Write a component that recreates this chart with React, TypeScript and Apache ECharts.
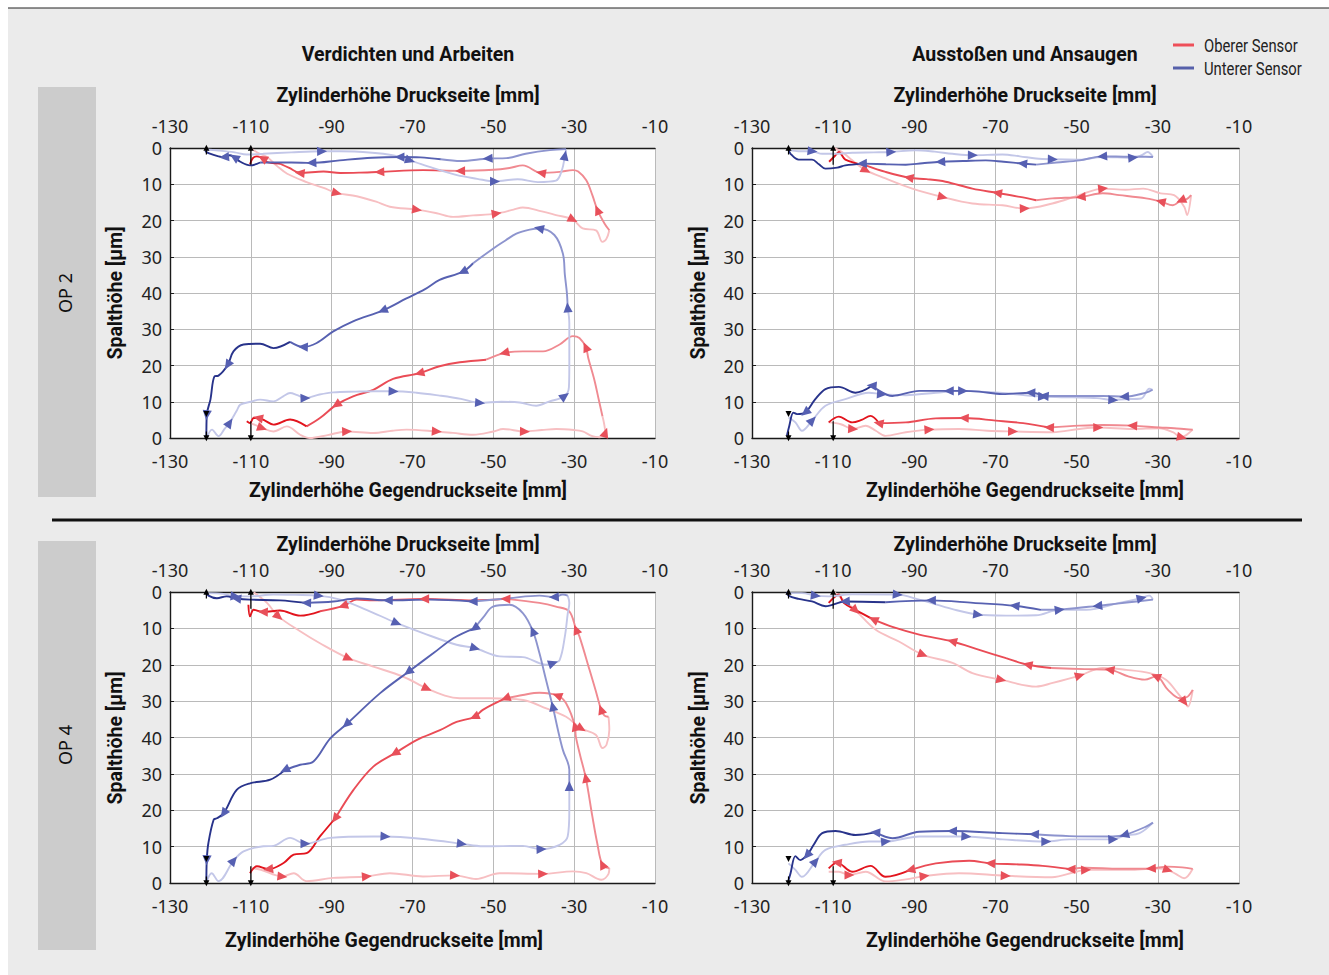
import React, { useEffect, useRef } from 'react';
import * as echarts from 'echarts';

// ---------- axis definitions ----------
const X_MIN = -130;
const X_MAX = -10;
const X_STEP = 20;
const Y_LABELS = ['0', '10', '20', '30', '40', '30', '20', '10', '0'];
const COLUMN_TITLES = ['Verdichten und Arbeiten', 'Ausstoßen und Ansaugen'];
const ROW_LABELS = ['OP 2', 'OP 4'];
const LEGEND_LABELS = ['Oberer Sensor', 'Unterer Sensor'];
const X_NAME_TOP = 'Zylinderhöhe Druckseite [mm]';
const X_NAME_BOTTOM = 'Zylinderhöhe Gegendruckseite [mm]';
const Y_NAME = 'Spalthöhe [µm]';

// ---------- data: [x mm, gap µm, arrowFlag] ; each curve = 4 segments (light -> dark) ----------
// Panel 1: OP 2, Verdichten und Arbeiten
const p1TopBlue = [
  [[-121.3, 0.4], [-118, 0.7], [-114, 1.2], [-111, 1.8], [-107, 1.6], [-100, 1.2], [-92.5, 0.9, 1], [-88, 0.9], [-80, 1.3], [-75, 2], [-70.7, 3.4, 1], [-65, 5.5], [-59, 7.5], [-54, 8.5], [-49.7, 9.2, 1], [-44, 8.6], [-39, 9.4], [-34.5, 9], [-33, 6], [-32.3, 2.2, 1], [-32, 0.3]],
  [[-32, 0.3], [-36, 0.6], [-42, 1.6], [-46.8, 2.8], [-51.3, 2.9, 1], [-58, 3.6], [-63, 3.1]],
  [[-63, 3.1], [-68, 2.6], [-73.1, 2.5, 1], [-80, 2.7], [-88, 3.4], [-94.9, 4.1, 1], [-100, 4], [-107.7, 4]],
  [[-107.7, 4], [-110.2, 4.8], [-112.6, 3.8], [-114, 2.6, 1], [-115.2, 2], [-116.5, 2.5, 1], [-118, 2.3], [-120.3, 1.5], [-121.3, 0.8]],
];
const p1TopRed = [
  [[-110, 0], [-108.5, 1.2], [-106, 2.5], [-103.5, 5], [-101, 7.1], [-96.2, 9.4], [-92, 11], [-88.8, 12.4, 1], [-83.8, 13.3], [-79, 14.8], [-75.6, 16.2], [-69, 17, 1], [-64, 18], [-60, 19], [-55, 18.6], [-49.3, 18.1, 1], [-45, 17], [-42.7, 16.4], [-38, 17.5], [-34.5, 18.5], [-30.4, 19.7, 1], [-27.9, 22.2], [-24.6, 22.7], [-23, 25.9], [-22, 25], [-21.3, 22.7]],
  [[-21.3, 22.7], [-22.5, 20.8], [-24.2, 17.2, 1], [-25.5, 13], [-27, 8.9], [-29, 6.5], [-30.3, 6.1], [-33.6, 6.6], [-38.1, 6.9, 1], [-42.7, 4.8], [-46, 5.5], [-50, 6], [-58.1, 6.3, 1], [-63, 6.2]],
  [[-63, 6.2], [-67.4, 6.1], [-78.1, 6.6, 1], [-83, 6.8], [-87.9, 6.9], [-92, 6.5], [-97.8, 6.9, 1], [-100.5, 5.5], [-102.8, 4.3]],
  [[-102.8, 4.3], [-106, 3.9], [-107, 2.9, 1], [-108.5, 2.3], [-109.5, 2.8], [-110.2, 4.5]],
];
const p1BotBlue = [
  [[-120.9, 0], [-119.6, 2.3], [-118, 0.5], [-116.5, 2.5], [-115.3, 4.1, 1], [-113.5, 7.5], [-112.6, 9.2], [-110, 10], [-107.7, 10.6], [-104.4, 10.1], [-102, 11.5], [-100.3, 12.4], [-98.5, 11.8], [-96.6, 11, 1], [-93, 12], [-89.6, 12.6], [-84, 12.8], [-79.7, 12.9], [-74.8, 12.9, 1], [-69, 12.5], [-63.3, 11.7], [-58, 10.8], [-53.4, 9.7, 1], [-48, 10], [-43.5, 9.8], [-39.4, 8.9], [-36.1, 10.1], [-32.4, 11.5, 1], [-31.3, 14], [-31.2, 20], [-31.2, 31.7], [-31.6, 35.9, 1]],
  [[-31.6, 35.9], [-31.8, 40], [-32.3, 45], [-32.8, 50.9], [-34.9, 56], [-38.6, 57.8, 1], [-41, 57.5], [-44.3, 56.4], [-47, 54.5], [-50, 52.3], [-55, 48.2]],
  [[-55, 48.2], [-57.5, 45.9, 1], [-63.3, 43.6], [-67, 41], [-71.5, 38.5], [-77.3, 35.2, 1], [-84.7, 32.2], [-89.6, 29.4], [-93.7, 26.2], [-97, 25.1, 1], [-100.3, 26.5]],
  [[-100.3, 26.5], [-104.4, 24.8], [-107.7, 26], [-111.8, 25.8], [-114.3, 23.9], [-115.7, 20.2, 1], [-118, 17.2], [-119, 17], [-120, 10.6], [-120.9, 6.4, 1], [-121, 0.5]],
];
const p1BotRed = [
  [[-110.2, 4.1], [-108.5, 3.4], [-107.3, 2.8, 1], [-104.4, 1.8], [-101.1, 3.2], [-97.8, 0.9], [-95.4, 0], [-91, 0.8], [-86.3, 1.8, 1], [-79.7, 1.4], [-75, 2], [-71.5, 2.3], [-64.1, 1.8, 1], [-60, 1.4], [-55, 0.9], [-50, 1.8], [-47.6, 2.5], [-42.3, 1.8, 1], [-38, 2.2], [-34.4, 2.5], [-30, 2.2], [-27.9, 1.8], [-25.5, 0.5], [-23.8, 0.2], [-22.3, 1.4, 1], [-22.6, 4], [-23, 6]],
  [[-23, 6], [-24, 11], [-25, 16], [-26.5, 22], [-27.1, 25, 1], [-28.7, 27.6], [-30.3, 28.1], [-33.6, 25.8], [-37.7, 23.9], [-42.7, 23.9], [-47.2, 23.5, 1], [-51.8, 21.6]],
  [[-51.8, 21.6], [-58.3, 20.9], [-63.3, 19.8], [-68.2, 17.9, 1], [-74.8, 16.3], [-79.7, 13.3], [-84.7, 11.5], [-88.8, 9.2, 1], [-92.9, 5.5], [-96.2, 3.2]],
  [[-96.2, 3.2], [-100.3, 5.1], [-104.4, 3.7], [-106.5, 4.8], [-108.1, 5.5, 1], [-109.3, 5.5], [-110.2, 4.1], [-111, 4.6]],
];

// Panel 2: OP 2, Ausstoßen und Ansaugen
const p2TopBlue = [
  [[-120.9, 0.6], [-118.5, 0.9], [-115.2, 0.9, 1], [-112.7, 1.6], [-109.8, 1.6], [-105.3, 1.3], [-100, 1.2], [-95.8, 1.1, 1], [-89.7, 0.6], [-85, 1], [-80.6, 1.6], [-75.7, 2, 1], [-68.3, 1.8], [-64, 2.3], [-60, 2.9], [-56, 3.1, 1], [-49.3, 3.2], [-43.6, 2.5], [-40, 2.6], [-36.2, 2.7, 1], [-34, 2], [-32.5, 1.1], [-31.2, 2.5]],
  [[-31.2, 2.5], [-33, 2.4], [-37, 2.4], [-43.6, 2.3, 1], [-49.3, 3.4], [-55, 4], [-60, 4.6]],
  [[-60, 4.6], [-63.3, 4.3, 1], [-68, 3.8], [-72.4, 3.4], [-78, 3.6], [-83.5, 3.8, 1], [-88, 4.2], [-92.1, 4.6], [-97, 4.5], [-102.8, 4.3, 1]],
  [[-102.8, 4.3], [-107, 4.8], [-109, 5.4], [-111.9, 5.7], [-113.5, 4.5], [-115.2, 3.2], [-118.5, 3.2], [-120.5, 1.6], [-121.1, 0.2]],
];
const p2TopRed = [
  [[-109.8, 0], [-108.6, 0.6], [-107, 1.8], [-105.3, 3.4], [-102, 6.1, 1], [-97.1, 8.4], [-90.5, 11.2], [-83.1, 13.5, 1], [-75.7, 15.3], [-68.3, 15.8], [-62.9, 16.7, 1], [-56, 15.3], [-49.3, 13], [-43.6, 11.2, 1], [-38, 11.5], [-33.6, 11.2], [-29.3, 12.5], [-26, 13], [-23.5, 16.2], [-22.8, 18.5], [-21.8, 13]],
  [[-21.8, 13], [-23, 14.2], [-24.2, 14.4, 1], [-26.3, 15.8], [-29.2, 14.8, 1], [-32.9, 13.9], [-39.5, 13], [-43.6, 12.5], [-48.9, 13.5, 1], [-56, 13.9], [-60, 14.4]],
  [[-60, 14.4], [-64, 13.5], [-69.5, 12.4, 1], [-75.7, 11.2], [-82.3, 9.3], [-87, 8.6], [-91.3, 8.2, 1], [-97.1, 6.6], [-102, 4.8]],
  [[-102, 4.8], [-107, 3.2], [-108.6, 1.1], [-109.6, 2.2], [-111, 3.8]],
];
const p2BotBlue = [
  [[-121, 5.7], [-119.3, 4.3], [-117.7, 2], [-115.2, 4.8, 1], [-111.9, 8.9], [-107, 10.7], [-101.2, 12.5], [-98.1, 12.1, 1], [-92.1, 11.8], [-84.7, 12.5], [-78.1, 13, 1], [-68.3, 12.4], [-58.4, 11.4, 1], [-51.1, 11.2], [-45, 11], [-41.1, 10.5, 1], [-38.2, 10.7], [-34.1, 10.9], [-32.1, 13.6], [-31.3, 13.3]],
  [[-31.3, 13.3], [-32.9, 12.5], [-38.2, 11.4, 1], [-43.6, 11.6], [-51.8, 11.6], [-58, 11.6, 1]],
  [[-58, 11.6], [-61.3, 12.5, 1], [-68.3, 12.1], [-74, 12.8], [-78.1, 13], [-81.4, 13, 1], [-88.8, 13], [-95.4, 11.6], [-100.4, 14.4, 1]],
  [[-100.4, 14.4], [-104.5, 12.5], [-108.6, 14.1], [-111.9, 13.5], [-114.4, 10.7], [-116.8, 7.1, 1], [-118.9, 6.6], [-119.8, 7], [-120.8, 3.4], [-121.4, 0.6]],
];
const p2BotRed = [
  [[-111.1, 4.3], [-108.1, 3.8], [-105.2, 2.5, 1], [-102, 3.4], [-99.5, 2], [-97.1, 0.6], [-92.1, 1.6], [-86.4, 2.3, 1], [-79, 2.5], [-72, 2], [-65.8, 1.8, 1], [-55.9, 1.6], [-49.3, 2.5], [-44.8, 2.9, 1], [-36.2, 2.5], [-29.6, 2.7], [-26.3, 1.6], [-24.2, 0.2, 1], [-23, 0.8], [-21.4, 2.3]],
  [[-21.4, 2.3], [-23, 2.4], [-26, 2.7], [-29.6, 2.9], [-36.2, 3.4, 1], [-43.6, 3.6], [-49.3, 3.4], [-56.7, 2.9, 1]],
  [[-56.7, 2.9], [-63.2, 4.1], [-69.9, 4.8], [-77.7, 5.5, 1], [-84.7, 5.4], [-92.1, 4.3], [-98.7, 4.1, 1]],
  [[-98.7, 4.1], [-100.8, 6.1], [-103, 5], [-105.3, 4.3], [-108.6, 5.9], [-111.1, 4.3]],
];

// Panel 3: OP 4, Verdichten und Arbeiten
const p3TopBlue = [
  [[-120.9, 0.3], [-116.7, 0.5], [-113.9, 1.2, 1], [-110.2, 1.2], [-104.4, 0.7], [-99, 0.8], [-93.3, 1, 1], [-87.9, 2.1], [-81.4, 4.9], [-74, 8.5, 1], [-67.4, 11.3], [-59.1, 14.5], [-54.6, 15.4, 1], [-48.4, 17.7], [-42.7, 17.9], [-38.5, 19.6], [-36.9, 20], [-35.3, 19.6, 1], [-33.6, 18.7], [-32.3, 12.2], [-31.6, 6], [-31.2, 3], [-31.6, 1]],
  [[-31.6, 1], [-32.8, 0.7], [-34.9, 1.4, 1], [-38.6, 1], [-46.1, 1.7], [-55, 2.6, 1]],
  [[-55, 2.6], [-65.7, 2.1], [-76, 2.3, 1], [-83.8, 1.8], [-89.6, 2.6], [-96.2, 3, 1]],
  [[-96.2, 3], [-102.8, 2.3], [-110.2, 2.1], [-113.5, 1.8, 1], [-116, 1.2], [-118.4, 1.7], [-120.5, 1], [-121, 0]],
];
const p3TopRed = [
  [[-109.3, 0.1], [-106, 3], [-103.2, 6.7, 1], [-97.8, 10.8], [-92.9, 14.1], [-85.9, 18.2, 1], [-79.7, 20.5], [-72.3, 23.3], [-66.5, 26.5, 1], [-62, 28.5], [-58.3, 29.2], [-50.8, 29.2], [-42.6, 29.7], [-36.9, 32], [-32, 34.3], [-28.3, 37.5, 1], [-24.6, 39.3], [-23, 42.9], [-22, 42], [-21.3, 37.9], [-21.5, 34.3]],
  [[-21.5, 34.3], [-22.5, 34], [-23.3, 32.4, 1], [-24.7, 27], [-26.2, 21.4], [-28.7, 12.2], [-29.5, 10.4, 1], [-31.2, 5.3], [-34.5, 4], [-38.6, 3], [-46.9, 1.9, 1]],
  [[-46.9, 1.9], [-55, 2.3], [-67, 1.9, 1], [-79.7, 2.3], [-83.8, 2.1], [-87.1, 3.8, 1], [-92.9, 5.3]],
  [[-92.9, 5.3], [-97.8, 6.5], [-102.8, 5.1], [-106.9, 5.5, 1], [-109.3, 4.9], [-110.2, 6.7], [-110.6, 3.5]],
];
const p3BotBlue = [
  [[-120.9, 0.5], [-119.7, 2.7], [-118, 0.5], [-114.3, 6.1, 1], [-111.8, 8.7], [-106.9, 10.1], [-104.4, 10.2], [-100.3, 12.4], [-96.6, 10.8, 1], [-90.4, 12.4], [-79.7, 12.8], [-76.8, 12.8, 1], [-65.7, 11.9], [-57.9, 10.8, 1], [-52.5, 10.1], [-42.7, 10.2], [-38.2, 9.3, 1], [-33.6, 10.5], [-31.6, 12.8], [-31.2, 20], [-31.2, 26.5, 1]],
  [[-31.2, 26.5], [-31.2, 31.1], [-32.8, 36.6], [-34, 42], [-35.3, 48.5, 1], [-37, 56], [-38.6, 63.2], [-40.2, 69.2, 1], [-42.7, 74.2], [-46, 76.5], [-50.1, 76], [-52.5, 73], [-54.6, 70.1, 1]],
  [[-54.6, 70.1], [-59.9, 67.3], [-64.8, 63.2], [-71, 58.1, 1], [-78, 52.2], [-86.3, 43.7, 1], [-90.4, 39.7], [-94.5, 33.4], [-97.8, 32.5], [-101.5, 31.1, 1]],
  [[-101.5, 31.1], [-105.2, 28.4], [-110.2, 27.4], [-113.5, 25.6], [-116.7, 19.2, 1], [-118.4, 17.8], [-119.2, 17.4], [-120.5, 11], [-120.9, 6.4, 1], [-121, 0.5]],
];
const p3BotRed = [
  [[-110.2, 4.1], [-107.7, 3.7], [-102.3, 1.8, 1], [-99.4, 2.7], [-96.2, 0.5], [-89.6, 1.4], [-81.4, 1.8, 1], [-75.6, 2.7], [-67.4, 1.8], [-59.6, 2.1, 1], [-54.3, 1.1], [-48.5, 2.7], [-37.8, 2.5, 1], [-30.3, 3.2], [-27, 2.7], [-23.3, 0.9], [-21.5, 2.5], [-21.3, 4.1]],
  [[-21.3, 4.1], [-23, 5, 1], [-24.3, 11], [-25.5, 18.3], [-27.1, 28.8, 1], [-28.5, 35], [-29.6, 40.3], [-29.8, 43, 1], [-32, 49.4], [-34.1, 51.5, 1], [-38.6, 52.3], [-42.7, 51.7], [-46.9, 50.8, 1]],
  [[-46.9, 50.8], [-52.6, 47.6], [-54.6, 45.7, 1], [-59.1, 44.3], [-63.2, 42], [-69, 39.3], [-74.3, 35.7, 1], [-79.7, 32], [-84.6, 25.6], [-89.1, 17.8, 1]],
  [[-89.1, 17.8], [-92.9, 12.8], [-96.2, 8.2], [-99.4, 7.8], [-101.9, 5.5], [-105.6, 3.8, 1], [-108.5, 4.6], [-110.2, 2.7]],
];

// Panel 4: OP 4, Ausstoßen und Ansaugen
const p4TopBlue = [
  [[-121, 0.3], [-117.7, 0.3], [-114.4, 1, 1], [-111.1, 1.2], [-105.3, 0.6], [-94.2, 0.7, 1], [-88.8, 2.1], [-80.6, 4.7], [-74.4, 6.2, 1], [-67.4, 6.5], [-60, 6.4], [-54.3, 4.9, 1], [-47.7, 4.9], [-39.5, 3], [-34.1, 1.7, 1], [-32.1, 1], [-31.2, 2.1]],
  [[-31.2, 2.1], [-35.3, 2.6], [-40, 3.2], [-44.8, 3.8, 1], [-53, 4.7], [-58.8, 4.9]],
  [[-58.8, 4.9], [-65.2, 3.8, 1], [-75.5, 3], [-85.8, 2.3, 1], [-97.1, 2.8]],
  [[-97.1, 2.8], [-107, 2.6, 1], [-111.9, 3.9], [-115.2, 2.6], [-118.5, 1.9], [-121, 1], [-121.4, 0]],
];
const p4TopRed = [
  [[-109.8, 0], [-107, 2.6], [-104.5, 5, 1], [-99.5, 10.4], [-93.8, 13.6], [-88, 17.2, 1], [-80.6, 19.5], [-75.7, 22.3], [-68.7, 24.1, 1], [-60, 26], [-55.9, 25], [-49.3, 23, 1], [-43.6, 20.9], [-37.8, 21.4], [-32, 22.3], [-28, 24.1], [-25.1, 27.8], [-23.5, 30.1, 1], [-22.6, 31.5], [-21.4, 26.9]],
  [[-21.4, 26.9], [-23, 29], [-24.6, 29.2], [-27.5, 26.9], [-30.4, 23.2, 1], [-33.2, 24.1], [-37.3, 23.2], [-41.8, 21.4, 1], [-48, 21.2], [-56.2, 20.9]],
  [[-56.2, 20.9], [-62, 20, 1], [-67.4, 18.2], [-74, 15.9], [-80.6, 13.6, 1], [-88.8, 11.7], [-95.4, 9.6], [-100, 7.6, 1]],
  [[-100, 7.6], [-104.5, 4.9], [-107.4, 3], [-108.6, 0.7], [-109.8, 1.5], [-111.1, 3]],
];
const p4BotBlue = [
  [[-121, 5.4], [-119.3, 3.6], [-117.7, 1.7], [-114.4, 5.9, 1], [-111.9, 9.1], [-107, 10.5], [-101.2, 11.4], [-97.1, 11.4, 1], [-88.8, 12.8], [-80.6, 12.8], [-77.3, 12.8, 1], [-68.3, 12], [-57.6, 11.4, 1], [-51.8, 12], [-41.1, 12, 1], [-38.2, 13], [-34.5, 13.7], [-31.2, 16.6]],
  [[-31.2, 16.6], [-32.9, 15.5], [-38.2, 13.2, 1], [-41.1, 12.8], [-51.8, 12.9], [-60.4, 13.4, 1]],
  [[-60.4, 13.4], [-68.3, 13.7], [-80.6, 14.3, 1], [-88.8, 14.1], [-95.4, 12.3], [-99.5, 13.9, 1]],
  [[-99.5, 13.9], [-104.5, 13.2], [-109.4, 14.3], [-112.7, 13.7], [-114.8, 10.5], [-116.4, 7.7, 1], [-118.1, 6.3], [-119.3, 7.4], [-120.5, 2.7], [-121.1, 0.4]],
];
const p4BotRed = [
  [[-111.1, 3.1], [-108.6, 3.1], [-106.1, 2.2, 1], [-102, 3.1], [-97.1, 0.4], [-92.1, 1], [-87.6, 1.9, 1], [-79, 2.7], [-67.6, 2, 1], [-56.1, 1.6], [-50.2, 3.1], [-47.8, 3.6, 1], [-36.3, 3.6], [-29.7, 4], [-27.6, 3.6, 1], [-25.6, 2.5], [-23.5, 1.3], [-21.4, 3.9]],
  [[-21.4, 3.9], [-24, 4.3], [-27.6, 4.5], [-31.6, 4, 1], [-39.5, 3.9], [-47.8, 4.2], [-51.4, 3.8, 1]],
  [[-51.4, 3.8], [-58.4, 4.7], [-64.2, 5.1], [-71.2, 5.4, 1], [-76.5, 6.1], [-84.7, 5.4], [-90.9, 3.6, 1]],
  [[-90.9, 3.6], [-97.1, 1.7], [-100.8, 4.7], [-105.3, 3.1], [-109, 5.6, 1], [-111.1, 4]],
];

// black position markers: [x, gapFrom, gapTo]
const MARKERS_TOP = [[-121, 1.8, -0.9], [-110, 4.6, -0.9]];
const MARKERS_BOTTOM = [[-121, 7.4, 5.8], [-121, 1.8, -0.9], [-110, 4.6, -0.9]];

const PANELS = [
  { topRed: p1TopRed, topBlue: p1TopBlue, botRed: p1BotRed, botBlue: p1BotBlue },
  { topRed: p2TopRed, topBlue: p2TopBlue, botRed: p2BotRed, botBlue: p2BotBlue },
  { topRed: p3TopRed, topBlue: p3TopBlue, botRed: p3BotRed, botBlue: p3BotBlue },
  { topRed: p4TopRed, topBlue: p4TopBlue, botRed: p4BotRed, botBlue: p4BotBlue },
];

// ---------- styling / layout ----------
const RED = ['#f7bfc2', '#f08a91', '#ea4c56', '#e2141d'];
const BLUE = ['#c3c7e8', '#8d94ce', '#5761b1', '#28338b'];
const RED_ARROW = '#e8505a';
const BLUE_ARROW = '#5660b2';
const GRIDS = [
  { left: 170, top: 148, width: 485, height: 290 },
  { left: 752, top: 148, width: 487, height: 290 },
  { left: 170, top: 592, width: 485, height: 291 },
  { left: 752, top: 592, width: 487, height: 291 },
];
const FONT_NUM = "'Noto Sans', 'DejaVu Sans', sans-serif";
const FONT_BOLD = "Roboto, 'Noto Sans', sans-serif";
const FONT_NARROW = "Roboto, 'Noto Sans', sans-serif";

function arrowRenderer(color: string) {
  return (params: any, api: any) => {
    const c = api.coord([api.value(0), api.value(1)]);
    const a = api.coord([api.value(2), api.value(3)]);
    const b = api.coord([api.value(4), api.value(5)]);
    let dx = b[0] - a[0];
    let dy = b[1] - a[1];
    const len = Math.hypot(dx, dy) || 1;
    dx /= len;
    dy /= len;
    const L = 10;
    const W = 4.6;
    const tip = [c[0] + dx * L * 0.55, c[1] + dy * L * 0.55];
    const bx = c[0] - dx * L * 0.45;
    const by = c[1] - dy * L * 0.45;
    return {
      type: 'polygon',
      shape: { points: [tip, [bx - dy * W, by + dx * W], [bx + dy * W, by - dx * W]] },
      style: { fill: color },
    };
  };
}

function markerRenderer(params: any, api: any) {
  const a = api.coord([api.value(0), api.value(1)]);
  const b = api.coord([api.value(0), api.value(2)]);
  const dir = b[1] > a[1] ? 1 : -1;
  const L = 6;
  const W = 3;
  return {
    type: 'group',
    children: [
      { type: 'line', shape: { x1: a[0], y1: a[1], x2: b[0], y2: b[1] - dir * L * 0.5 }, style: { stroke: '#000', lineWidth: 1.2 } },
      { type: 'polygon', shape: { points: [[b[0], b[1]], [b[0] - W, b[1] - dir * L], [b[0] + W, b[1] - dir * L]] }, style: { fill: '#000' } },
    ],
  };
}

function buildOption() {
  const series: any[] = [];
  const addCurve = (gi: number, segs: number[][][], pal: string[], arrowColor: string, bottom: boolean) => {
    const tr = (pt: number[]) => [pt[0], bottom ? 80 - pt[1] : pt[1]];
    segs.forEach((seg, k) => {
      series.push({
        type: 'line',
        xAxisIndex: gi * 2,
        yAxisIndex: gi,
        data: seg.map(tr),
        smooth: 0.35,
        symbol: 'none',
        showSymbol: false,
        silent: true,
        clip: false,
        lineStyle: { color: pal[k], width: 1.9 },
        z: 2,
      });
    });
    const flat: number[][] = [];
    segs.forEach((seg, k) => seg.forEach((pt, j) => { if (k > 0 && j === 0) return; flat.push(pt); }));
    const arrows: number[][] = [];
    flat.forEach((pt, i) => {
      if (pt[2]) {
        const a = flat[Math.max(0, i - 1)];
        const b = flat[Math.min(flat.length - 1, i + 1)];
        arrows.push([...tr(pt), ...tr(a), ...tr(b)]);
      }
    });
    series.push({
      type: 'custom',
      xAxisIndex: gi * 2,
      yAxisIndex: gi,
      data: arrows,
      encode: { x: 0, y: 1 },
      renderItem: arrowRenderer(arrowColor),
      silent: true,
      z: 6,
    });
  };

  PANELS.forEach((p, gi) => {
    addCurve(gi, p.topRed, RED, RED_ARROW, false);
    addCurve(gi, p.botRed, RED, RED_ARROW, true);
    addCurve(gi, p.topBlue, BLUE, BLUE_ARROW, false);
    addCurve(gi, p.botBlue, BLUE, BLUE_ARROW, true);
    const marks = [
      ...MARKERS_TOP.map((m) => [m[0], m[1], m[2]]),
      ...MARKERS_BOTTOM.map((m) => [m[0], 80 - m[1], 80 - m[2]]),
    ];
    series.push({
      type: 'custom',
      xAxisIndex: gi * 2,
      yAxisIndex: gi,
      data: marks,
      encode: { x: 0, y: 1 },
      renderItem: markerRenderer,
      silent: true,
      z: 8,
    });
  });

  const labelBase = { fontSize: 18, lineHeight: 18, color: '#222', fontFamily: FONT_NUM };
  const grid = GRIDS.map((g) => ({ ...g, show: true, backgroundColor: '#ffffff', borderWidth: 0 }));
  const xAxis: any[] = [];
  const yAxis: any[] = [];
  GRIDS.forEach((g, i) => {
    const base = {
      type: 'value',
      gridIndex: i,
      min: X_MIN,
      max: X_MAX,
      interval: X_STEP,
      axisLine: { show: true, onZero: false, lineStyle: { color: '#1a1a1a', width: 1.4 } },
      axisTick: { show: false },
    };
    xAxis.push({
      ...base,
      position: 'bottom',
      axisLabel: { ...labelBase, margin: 14 },
      splitLine: { show: true, lineStyle: { color: '#bababa', width: 1 } },
    });
    xAxis.push({
      ...base,
      position: 'top',
      axisLabel: { ...labelBase, margin: 13 },
      splitLine: { show: false },
    });
    yAxis.push({
      type: 'value',
      gridIndex: i,
      min: 0,
      max: 80,
      interval: 10,
      inverse: true,
      axisLine: { show: true, onZero: false, lineStyle: { color: '#1a1a1a', width: 1.4 } },
      axisTick: { show: true, inside: true, length: 4, lineStyle: { color: '#1a1a1a' } },
      axisLabel: {
        ...labelBase,
        margin: 8,
        formatter: (v: number) => Y_LABELS[Math.round(v / 10)] ?? '',
      },
      splitLine: { show: true, lineStyle: { color: '#bababa', width: 1 } },
    });
  });

  const txt = (text: string, x: number, y: number, font: string, opts: any = {}) => ({
    type: 'text',
    x,
    y,
    rotation: opts.rotation || 0,
    scaleX: opts.scaleX || 1,
    z: 20,
    style: {
      text,
      font,
      fill: opts.fill || '#111',
      textAlign: opts.align || 'center',
      textVerticalAlign: 'middle',
      align: opts.align || 'center',
      verticalAlign: 'middle',
    },
  });
  const boldFont = `bold 19.5px ${FONT_BOLD}`;
  const graphic: any[] = [
    { type: 'rect', shape: { x: 0, y: 0, width: 1329, height: 8 }, style: { fill: '#ffffff' }, z: 1 },
    { type: 'rect', shape: { x: 0, y: 0, width: 8, height: 975 }, style: { fill: '#ffffff' }, z: 1 },
    { type: 'line', shape: { x1: 8, y1: 8, x2: 1329, y2: 8 }, style: { stroke: '#222', lineWidth: 1 }, z: 2 },
    { type: 'rect', shape: { x: 38, y: 87, width: 58, height: 410 }, style: { fill: '#cccccc' }, z: 1 },
    { type: 'rect', shape: { x: 38, y: 541, width: 58, height: 409 }, style: { fill: '#cccccc' }, z: 1 },
    { type: 'line', shape: { x1: 52, y1: 520, x2: 1302, y2: 520 }, style: { stroke: '#111', lineWidth: 3 }, z: 2 },
    txt(COLUMN_TITLES[0], 408, 54, boldFont),
    txt(COLUMN_TITLES[1], 1025, 54, boldFont),
    txt(ROW_LABELS[0], 65, 293, `18px ${FONT_NUM}`, { rotation: Math.PI / 2 }),
    txt(ROW_LABELS[1], 65, 745, `18px ${FONT_NUM}`, { rotation: Math.PI / 2 }),
    txt(X_NAME_TOP, 408, 95, boldFont),
    txt(X_NAME_TOP, 1025, 95, boldFont),
    txt(X_NAME_TOP, 408, 544, boldFont),
    txt(X_NAME_TOP, 1025, 544, boldFont),
    txt(X_NAME_BOTTOM, 408, 490, boldFont),
    txt(X_NAME_BOTTOM, 1025, 490, boldFont),
    txt(X_NAME_BOTTOM, 384, 940, boldFont),
    txt(X_NAME_BOTTOM, 1025, 940, boldFont),
    txt(Y_NAME, 115, 293, boldFont, { rotation: Math.PI / 2 }),
    txt(Y_NAME, 698, 293, boldFont, { rotation: Math.PI / 2 }),
    txt(Y_NAME, 115, 738, boldFont, { rotation: Math.PI / 2 }),
    txt(Y_NAME, 698, 738, boldFont, { rotation: Math.PI / 2 }),
    { type: 'line', shape: { x1: 1173, y1: 45, x2: 1194, y2: 45 }, style: { stroke: '#ee4f59', lineWidth: 3 }, z: 2 },
    { type: 'line', shape: { x1: 1173, y1: 68, x2: 1194, y2: 68 }, style: { stroke: '#5660aa', lineWidth: 3 }, z: 2 },
    txt(LEGEND_LABELS[0], 1204, 45, `18.5px ${FONT_NARROW}`, { align: 'left', fill: '#222', scaleX: 0.8 }),
    txt(LEGEND_LABELS[1], 1204, 68, `18.5px ${FONT_NARROW}`, { align: 'left', fill: '#222', scaleX: 0.8 }),
  ];

  return {
    animation: false,
    backgroundColor: '#ebebeb',
    grid,
    xAxis,
    yAxis,
    series,
    graphic,
  };
}

export default function App() {
  const ref = useRef<HTMLDivElement>(null);
  useEffect(() => {
    document.body.style.margin = '0';
    document.body.style.overflow = 'hidden';
    const chart = echarts.init(ref.current!, null, { renderer: 'svg' });
    chart.setOption(buildOption() as any);
    return () => chart.dispose();
  }, []);
  return <div ref={ref} style={{ width: 1329, height: 975 }} />;
}
